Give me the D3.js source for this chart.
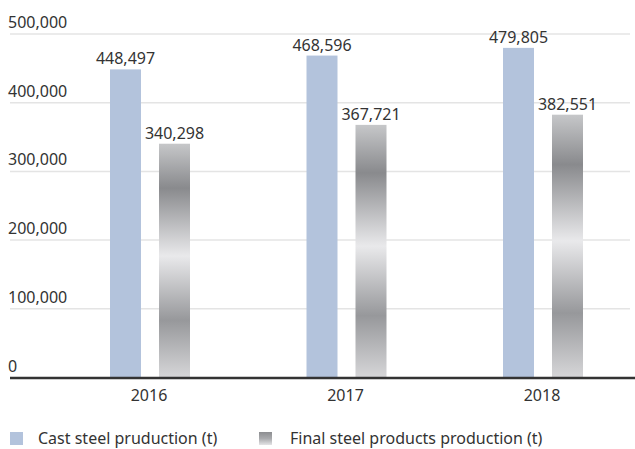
<!DOCTYPE html>
<html>
<head>
<meta charset="utf-8">
<script src="https://cdn.jsdelivr.net/npm/d3@7"></script>
<style>
  html, body { margin: 0; padding: 0; background: #fff; }
  svg { display: block; font-family: "Noto Sans", "Open Sans", sans-serif; }
</style>
</head>
<body>
<svg id="chart" width="635" height="449"></svg>
<script>
// Production figures by year
const years = ["2016", "2017", "2018"];
const castSteel = [448497, 468596, 479805];
const finalProducts = [340298, 367721, 382551];
const yTicks = [0, 100000, 200000, 300000, 400000, 500000];
const seriesNames = ["Cast steel pruduction (t)", "Final steel products production (t)"];

const svg = d3.select("#chart");
const W = 635;
const fmt = d3.format(",");

const x = d3.scaleBand().domain(years).range([51.75, 641.25]);
const y = d3.scaleLinear().domain([0, 500000]).range([377.5, 34]);

// Metallic vertical gradient for the finished-products bars
const defs = svg.append("defs");
const metal = defs.append("linearGradient")
  .attr("id", "metal").attr("x1", 0).attr("y1", 0).attr("x2", 0).attr("y2", 1);
[[0, "#c6c7c9"], [0.19, "#898a8d"], [0.48, "#e9e9eb"], [0.755, "#97989b"], [1, "#d6d6d8"]]
  .forEach(([o, c]) => metal.append("stop").attr("offset", o).attr("stop-color", c));
const metalLegend = defs.append("linearGradient")
  .attr("id", "metalLegend").attr("x1", 0).attr("y1", 0).attr("x2", 0).attr("y2", 1);
[[0, "#8c8d90"], [0.5, "#a9aaad"], [1, "#e4e4e6"]]
  .forEach(([o, c]) => metalLegend.append("stop").attr("offset", o).attr("stop-color", c));

// Gridlines and y labels
svg.append("g").selectAll("line").data(yTicks.filter(d => d > 0)).join("line")
  .attr("x1", 10).attr("x2", 630)
  .attr("y1", d => y(d)).attr("y2", d => y(d))
  .attr("stroke", "#e4e4e4").attr("stroke-width", 1.5);

svg.append("g").selectAll("text").data(yTicks).join("text")
  .attr("x", 8).attr("y", d => y(d) - 6)
  .attr("font-size", 16).attr("fill", "#333")
  .text(d => fmt(d));

const barW = 31, offset = 9;

// Cast steel bars
svg.append("g").selectAll("rect").data(years).join("rect")
  .attr("x", (d) => x(d) + x.bandwidth() / 2 - offset - barW)
  .attr("width", barW)
  .attr("y", (d, i) => y(castSteel[i]))
  .attr("height", (d, i) => y(0) - y(castSteel[i]))
  .attr("fill", "#b3c3dc");

// Final products bars
svg.append("g").selectAll("rect").data(years).join("rect")
  .attr("x", (d) => x(d) + x.bandwidth() / 2 + offset)
  .attr("width", barW)
  .attr("y", (d, i) => y(finalProducts[i]))
  .attr("height", (d, i) => y(0) - y(finalProducts[i]))
  .attr("fill", "url(#metal)");

// Value labels
const labels = svg.append("g").attr("font-size", 16).attr("fill", "#333").attr("text-anchor", "middle");
years.forEach((yr, i) => {
  const c = x(yr) + x.bandwidth() / 2;
  labels.append("text").attr("x", c - offset - barW / 2).attr("y", y(castSteel[i]) - 5).text(fmt(castSteel[i]));
  labels.append("text").attr("x", c + offset + barW / 2).attr("y", y(finalProducts[i]) - 5).text(fmt(finalProducts[i]));
});

// Baseline axis
svg.append("line").attr("x1", 10).attr("x2", W).attr("y1", y(0) + 0.5).attr("y2", y(0) + 0.5)
  .attr("stroke", "#333").attr("stroke-width", 2.5);

// Year labels
svg.append("g").selectAll("text").data(years).join("text")
  .attr("x", d => x(d) + x.bandwidth() / 2 - 1)
  .attr("y", 401)
  .attr("text-anchor", "middle").attr("font-size", 16).attr("fill", "#333")
  .text(d => d);

// Legend
const legend = svg.append("g");
const legendItems = [
  { name: seriesNames[0], fill: "#b3c3dc", x: 10, tx: 38 },
  { name: seriesNames[1], fill: "url(#metalLegend)", x: 259, tx: 290 }
];
legendItems.forEach(it => {
  legend.append("rect").attr("x", it.x).attr("y", 432).attr("width", 13).attr("height", 13).attr("fill", it.fill);
  legend.append("text").attr("x", it.tx).attr("y", 444).attr("font-size", 16).attr("fill", "#333").text(it.name);
});
</script>
</body>
</html>
